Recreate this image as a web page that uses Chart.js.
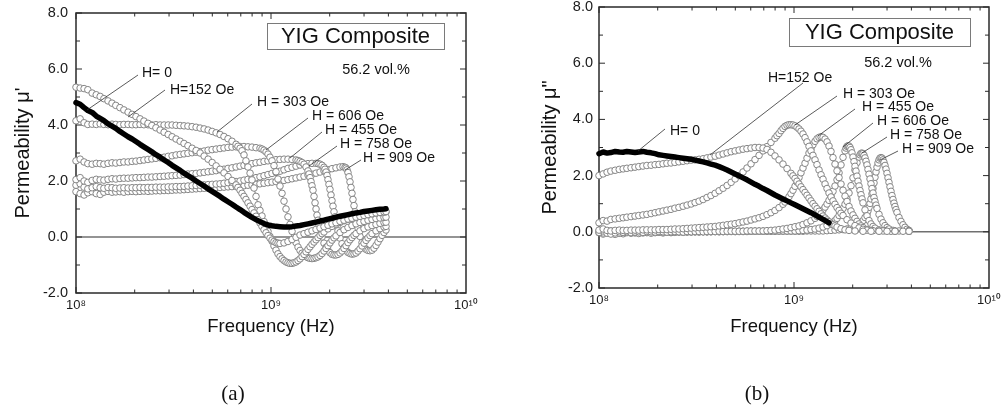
<!DOCTYPE html>
<html><head><meta charset="utf-8">
<script src="https://cdn.jsdelivr.net/npm/chart.js@4.4.1/dist/chart.umd.min.js"></script>
<style>
html,body{margin:0;padding:0;background:#fff;}
#wrap{position:relative;width:1008px;height:415px;overflow:hidden;background:#fff;}
#ca{position:absolute;left:0;top:0;width:500px;height:415px;}
#cb{position:absolute;left:500px;top:0;width:508px;height:415px;}
</style></head><body>
<div id="wrap"><canvas id="ca" width="500" height="415"></canvas><canvas id="cb" width="508" height="415"></canvas></div>
<script>
// ---------- tick labels ----------
const xTickVals = [1e8, 1e9, 1e10];
const xTickText = ['10\u2078', '10\u2079', '10\u00B9\u2070'];
const seriesNames = ['H= 0', 'H=152 Oe', 'H = 303 Oe', 'H = 455 Oe', 'H = 606 Oe', 'H = 758 Oe', 'H = 909 Oe'];

// ---------- panel (a): real permeability mu' ; pairs [frequency MHz, value] ----------
const muA_H0 = [[100,4.80],[105,4.74],[110,4.62],[115,4.52],[121,4.45],[127,4.32],[133,4.24],[139,4.16],[146,4.04],[153,3.96],[160,3.88],[168,3.77],[176,3.68],[185,3.58],[194,3.50],[203,3.41],[213,3.31],[223,3.22],[234,3.13],[245,3.04],[257,2.94],[270,2.85],[283,2.75],[297,2.66],[311,2.56],[326,2.47],[342,2.38],[358,2.28],[375,2.19],[394,2.10],[413,2.00],[433,1.91],[454,1.82],[476,1.72],[499,1.63],[523,1.54],[548,1.45],[574,1.35],[602,1.26],[631,1.17],[662,1.07],[694,0.98],[727,0.88],[762,0.79],[799,0.70],[838,0.62],[878,0.55],[921,0.48],[965,0.43],[1012,0.40],[1061,0.38],[1112,0.37],[1166,0.36],[1222,0.36],[1282,0.37],[1344,0.39],[1409,0.41],[1477,0.44],[1548,0.47],[1623,0.50],[1702,0.53],[1784,0.57],[1870,0.60],[1960,0.64],[2055,0.67],[2154,0.71],[2259,0.74],[2368,0.77],[2482,0.80],[2602,0.83],[2729,0.86],[2860,0.88],[2999,0.91],[3144,0.93],[3296,0.95],[3455,0.97],[3622,0.99],[3797,1.00],[3888,1.01]];
const muA_H152 = [[100,5.35],[105,5.32],[110,5.30],[115,5.26],[121,5.14],[127,5.08],[133,5.02],[139,4.94],[146,4.86],[153,4.78],[160,4.70],[168,4.62],[176,4.54],[185,4.46],[194,4.38],[203,4.30],[213,4.22],[223,4.14],[234,4.06],[245,3.98],[257,3.90],[270,3.82],[283,3.74],[297,3.66],[311,3.58],[326,3.50],[342,3.42],[358,3.34],[375,3.26],[394,3.17],[413,3.09],[433,3.00],[454,2.89],[476,2.78],[499,2.66],[523,2.54],[548,2.42],[574,2.29],[602,2.16],[631,2.02],[662,1.86],[677,1.77],[694,1.67],[710,1.56],[727,1.45],[744,1.34],[762,1.22],[781,1.10],[799,0.98],[818,0.86],[838,0.74],[858,0.62],[878,0.50],[899,0.38],[921,0.26],[943,0.15],[965,0.05],[988,-0.04],[1012,-0.11],[1036,-0.16],[1061,-0.20],[1086,-0.22],[1112,-0.23],[1166,-0.21],[1222,-0.16],[1282,-0.09],[1344,-0.01],[1409,0.07],[1477,0.12],[1548,0.17],[1623,0.22],[1702,0.27],[1784,0.32],[1870,0.37],[1960,0.42],[2055,0.47],[2154,0.51],[2259,0.56],[2368,0.60],[2482,0.64],[2602,0.67],[2729,0.71],[2860,0.74],[2999,0.77],[3144,0.80],[3296,0.83],[3455,0.86],[3622,0.88],[3797,0.90],[3888,0.91]];
const muA_H303 = [[100,4.15],[105,4.22],[110,4.08],[115,4.02],[121,4.03],[127,4.02],[133,4.04],[139,4.02],[146,4.01],[153,4.03],[160,4.02],[168,4.01],[176,4.02],[185,4.02],[194,4.01],[203,4.01],[213,4.02],[223,4.01],[234,4.01],[245,4.00],[257,4.01],[270,4.00],[283,4.00],[297,4.00],[311,4.00],[326,3.99],[342,3.98],[358,3.97],[375,3.96],[394,3.94],[413,3.92],[433,3.89],[454,3.86],[476,3.82],[499,3.77],[523,3.72],[548,3.66],[574,3.59],[602,3.51],[631,3.42],[662,3.31],[677,3.24],[694,3.17],[710,3.08],[727,2.93],[744,2.72],[762,2.50],[781,2.28],[799,2.04],[818,1.75],[838,1.45],[858,1.15],[878,0.95],[899,0.75],[921,0.55],[943,0.38],[965,0.20],[988,0.02],[1012,-0.15],[1036,-0.32],[1061,-0.47],[1086,-0.60],[1112,-0.70],[1139,-0.78],[1166,-0.84],[1194,-0.89],[1222,-0.92],[1251,-0.94],[1282,-0.94],[1312,-0.92],[1344,-0.89],[1376,-0.84],[1409,-0.78],[1443,-0.70],[1477,-0.62],[1512,-0.53],[1548,-0.44],[1585,-0.35],[1623,-0.26],[1662,-0.18],[1702,-0.10],[1742,-0.02],[1784,0.06],[1827,0.12],[1870,0.18],[1960,0.29],[2055,0.38],[2154,0.46],[2259,0.52],[2368,0.58],[2482,0.63],[2602,0.67],[2729,0.71],[2860,0.74],[2999,0.77],[3144,0.80],[3296,0.83],[3455,0.85],[3622,0.87],[3797,0.89],[3888,0.90]];
const muA_H455 = [[100,2.72],[105,2.78],[110,2.68],[115,2.62],[121,2.60],[127,2.63],[133,2.62],[139,2.60],[146,2.63],[153,2.65],[160,2.64],[168,2.66],[176,2.68],[185,2.68],[194,2.70],[203,2.71],[213,2.73],[223,2.75],[234,2.77],[245,2.79],[257,2.81],[270,2.83],[283,2.85],[297,2.88],[311,2.90],[326,2.93],[342,2.95],[358,2.97],[375,2.99],[394,3.01],[413,3.03],[433,3.05],[454,3.07],[476,3.10],[499,3.12],[523,3.14],[548,3.16],[574,3.18],[602,3.20],[631,3.21],[662,3.22],[694,3.23],[727,3.23],[762,3.22],[799,3.21],[838,3.19],[878,3.17],[899,3.14],[921,3.10],[943,3.04],[965,2.96],[988,2.85],[1012,2.72],[1036,2.55],[1061,2.33],[1086,2.07],[1112,1.82],[1139,1.56],[1166,1.28],[1194,1.00],[1222,0.72],[1251,0.45],[1282,0.20],[1312,-0.02],[1344,-0.20],[1376,-0.36],[1409,-0.48],[1443,-0.58],[1477,-0.65],[1512,-0.70],[1548,-0.74],[1585,-0.76],[1623,-0.77],[1662,-0.76],[1702,-0.74],[1742,-0.71],[1784,-0.66],[1827,-0.59],[1870,-0.50],[1915,-0.41],[1960,-0.31],[2007,-0.21],[2055,-0.11],[2104,-0.03],[2154,0.04],[2259,0.16],[2368,0.26],[2482,0.34],[2602,0.41],[2729,0.47],[2860,0.52],[2999,0.56],[3144,0.60],[3296,0.63],[3455,0.66],[3622,0.68],[3797,0.70],[3888,0.71]];
const muA_H606 = [[100,2.05],[105,2.12],[110,2.00],[115,1.95],[121,2.02],[127,2.06],[133,2.04],[139,2.03],[146,2.06],[153,2.08],[160,2.07],[168,2.09],[176,2.10],[185,2.10],[194,2.11],[203,2.12],[213,2.12],[223,2.13],[234,2.14],[245,2.14],[257,2.15],[270,2.16],[283,2.17],[297,2.18],[311,2.19],[326,2.20],[342,2.21],[358,2.23],[375,2.25],[394,2.26],[413,2.27],[433,2.29],[454,2.31],[476,2.33],[499,2.35],[523,2.37],[548,2.40],[574,2.42],[602,2.45],[631,2.47],[662,2.50],[694,2.53],[727,2.56],[762,2.59],[799,2.62],[838,2.65],[878,2.67],[921,2.70],[965,2.72],[1012,2.74],[1061,2.76],[1112,2.77],[1166,2.78],[1222,2.78],[1282,2.77],[1344,2.75],[1376,2.73],[1409,2.70],[1443,2.66],[1477,2.60],[1512,2.50],[1548,2.36],[1566,2.25],[1585,2.12],[1604,1.98],[1623,1.83],[1642,1.67],[1662,1.45],[1682,1.22],[1702,1.00],[1722,0.78],[1742,0.60],[1763,0.42],[1784,0.26],[1827,0.00],[1870,-0.22],[1915,-0.37],[1960,-0.48],[2007,-0.56],[2055,-0.62],[2104,-0.64],[2154,-0.64],[2206,-0.62],[2259,-0.57],[2313,-0.50],[2368,-0.41],[2425,-0.31],[2482,-0.20],[2542,-0.10],[2602,-0.02],[2665,0.06],[2729,0.12],[2860,0.22],[2999,0.30],[3144,0.36],[3296,0.41],[3455,0.45],[3622,0.49],[3797,0.52],[3888,0.53]];
const muA_H758 = [[100,1.85],[105,1.90],[110,1.78],[115,1.72],[121,1.76],[127,1.80],[133,1.76],[139,1.74],[146,1.77],[153,1.76],[160,1.74],[168,1.75],[176,1.76],[185,1.75],[194,1.76],[203,1.76],[213,1.77],[223,1.76],[234,1.77],[245,1.77],[257,1.78],[270,1.78],[283,1.78],[297,1.79],[311,1.79],[326,1.80],[342,1.80],[358,1.81],[375,1.82],[394,1.83],[413,1.84],[433,1.85],[454,1.86],[476,1.87],[499,1.88],[523,1.89],[548,1.90],[574,1.92],[602,1.94],[631,1.96],[662,1.98],[694,2.00],[727,2.03],[762,2.06],[799,2.09],[838,2.12],[878,2.15],[921,2.19],[965,2.23],[1012,2.27],[1061,2.31],[1112,2.35],[1166,2.40],[1222,2.45],[1282,2.49],[1344,2.53],[1409,2.57],[1477,2.60],[1548,2.62],[1623,2.63],[1702,2.63],[1742,2.62],[1784,2.60],[1827,2.56],[1870,2.49],[1892,2.42],[1915,2.32],[1938,2.20],[1960,2.05],[1983,1.88],[2007,1.70],[2031,1.50],[2055,1.30],[2079,1.10],[2104,0.90],[2129,0.72],[2154,0.54],[2180,0.37],[2206,0.22],[2259,-0.04],[2313,-0.24],[2368,-0.38],[2425,-0.48],[2482,-0.55],[2542,-0.59],[2602,-0.61],[2665,-0.60],[2729,-0.57],[2794,-0.50],[2860,-0.42],[2929,-0.32],[2999,-0.22],[3070,-0.12],[3144,-0.03],[3219,0.05],[3296,0.12],[3455,0.22],[3622,0.30],[3797,0.36],[3888,0.38]];
const muA_H909 = [[100,1.62],[105,1.55],[110,1.50],[115,1.58],[121,1.62],[127,1.55],[133,1.52],[139,1.60],[146,1.63],[153,1.60],[160,1.61],[168,1.62],[176,1.60],[185,1.62],[194,1.63],[203,1.62],[213,1.63],[223,1.64],[234,1.63],[245,1.64],[257,1.65],[270,1.65],[283,1.66],[297,1.66],[311,1.67],[326,1.68],[342,1.68],[358,1.69],[375,1.70],[394,1.71],[413,1.72],[433,1.73],[454,1.74],[476,1.74],[499,1.75],[523,1.76],[548,1.77],[574,1.78],[602,1.79],[631,1.80],[662,1.81],[694,1.82],[727,1.83],[762,1.85],[799,1.86],[838,1.88],[878,1.90],[921,1.92],[965,1.94],[1012,1.96],[1061,1.98],[1112,2.00],[1166,2.02],[1222,2.05],[1282,2.08],[1344,2.11],[1409,2.14],[1477,2.17],[1548,2.21],[1623,2.24],[1702,2.28],[1784,2.32],[1870,2.36],[1960,2.40],[2055,2.44],[2154,2.47],[2259,2.50],[2341,2.51],[2396,2.49],[2425,2.46],[2454,2.40],[2482,2.30],[2512,2.15],[2542,1.97],[2572,1.77],[2602,1.56],[2633,1.34],[2665,1.12],[2697,0.90],[2729,0.69],[2761,0.50],[2794,0.32],[2827,0.16],[2860,0.02],[2929,-0.20],[2999,-0.35],[3070,-0.44],[3144,-0.48],[3219,-0.49],[3296,-0.47],[3375,-0.40],[3455,-0.30],[3538,-0.18],[3622,-0.06],[3709,0.06],[3797,0.16],[3888,0.25]];

// ---------- panel (b): imaginary permeability mu'' ; pairs [frequency MHz, value] ----------
const muB_H0 = [[100,2.78],[105,2.84],[110,2.80],[115,2.82],[121,2.86],[127,2.84],[133,2.83],[139,2.86],[146,2.84],[153,2.82],[160,2.84],[168,2.86],[176,2.83],[185,2.81],[194,2.78],[203,2.74],[213,2.72],[223,2.70],[234,2.68],[245,2.66],[257,2.64],[270,2.62],[283,2.60],[297,2.58],[311,2.55],[326,2.52],[342,2.49],[358,2.45],[375,2.41],[394,2.37],[413,2.32],[433,2.26],[454,2.20],[476,2.13],[499,2.06],[523,1.99],[548,1.92],[574,1.85],[602,1.77],[631,1.69],[662,1.62],[694,1.54],[727,1.47],[762,1.39],[799,1.31],[838,1.24],[878,1.17],[921,1.10],[965,1.03],[1012,0.96],[1061,0.89],[1112,0.82],[1166,0.75],[1222,0.68],[1282,0.60],[1344,0.52],[1409,0.44],[1477,0.36],[1512,0.32]];
const muB_H152 = [[100,2.00],[105,2.06],[110,2.12],[115,2.16],[121,2.19],[127,2.22],[133,2.24],[139,2.26],[146,2.28],[153,2.30],[160,2.32],[168,2.34],[176,2.36],[185,2.37],[194,2.39],[203,2.40],[213,2.42],[223,2.44],[234,2.45],[245,2.47],[257,2.49],[270,2.51],[283,2.53],[297,2.55],[311,2.56],[326,2.58],[342,2.60],[358,2.63],[375,2.66],[394,2.69],[413,2.73],[433,2.77],[454,2.81],[476,2.85],[499,2.88],[523,2.91],[548,2.94],[574,2.96],[602,2.98],[631,3.00],[662,3.00],[694,2.98],[727,2.93],[762,2.83],[799,2.70],[838,2.56],[878,2.41],[921,2.25],[965,2.08],[988,1.99],[1012,1.90],[1036,1.80],[1061,1.70],[1086,1.60],[1112,1.50],[1139,1.40],[1166,1.30],[1194,1.20],[1222,1.10],[1251,1.00],[1282,0.91],[1312,0.82],[1344,0.73],[1376,0.64],[1409,0.56],[1443,0.49],[1477,0.42],[1512,0.36],[1548,0.30],[1585,0.25],[1623,0.21],[1662,0.17],[1742,0.11],[1827,0.07],[1915,0.05],[2055,0.03],[2259,0.02],[2482,0.02],[2729,0.02],[2999,0.02],[3296,0.02],[3622,0.02],[3888,0.02]];
const muB_H303 = [[100,0.32],[105,0.40],[110,0.38],[115,0.44],[121,0.46],[127,0.48],[133,0.50],[139,0.52],[146,0.54],[153,0.56],[160,0.58],[168,0.60],[176,0.62],[185,0.65],[194,0.68],[203,0.71],[213,0.74],[223,0.77],[234,0.80],[245,0.84],[257,0.87],[270,0.91],[283,0.95],[297,0.99],[311,1.04],[326,1.09],[342,1.15],[358,1.22],[375,1.29],[394,1.37],[413,1.46],[433,1.55],[454,1.65],[476,1.76],[499,1.88],[523,2.00],[548,2.13],[574,2.27],[602,2.42],[631,2.57],[662,2.72],[694,2.88],[727,3.03],[762,3.18],[799,3.33],[818,3.42],[838,3.50],[858,3.60],[878,3.68],[899,3.75],[921,3.79],[943,3.81],[965,3.81],[988,3.80],[1012,3.77],[1036,3.72],[1061,3.66],[1086,3.58],[1112,3.48],[1139,3.35],[1166,3.20],[1194,3.04],[1222,2.88],[1251,2.72],[1282,2.56],[1312,2.39],[1344,2.20],[1376,2.03],[1409,1.87],[1443,1.70],[1477,1.54],[1512,1.38],[1548,1.24],[1585,1.10],[1623,0.98],[1662,0.86],[1702,0.76],[1742,0.66],[1784,0.58],[1870,0.43],[1960,0.31],[2055,0.22],[2154,0.14],[2259,0.09],[2368,0.06],[2542,0.04],[2860,0.03],[3296,0.02],[3888,0.02]];
const muB_H455 = [[100,0.06],[105,0.10],[110,0.05],[115,0.03],[121,0.05],[127,0.06],[133,0.05],[139,0.05],[146,0.06],[153,0.06],[160,0.06],[168,0.07],[176,0.07],[185,0.07],[194,0.07],[203,0.08],[213,0.08],[223,0.08],[234,0.09],[245,0.10],[257,0.10],[270,0.11],[283,0.12],[297,0.13],[311,0.14],[326,0.15],[342,0.16],[358,0.17],[375,0.18],[394,0.19],[413,0.21],[433,0.23],[454,0.25],[476,0.27],[499,0.29],[523,0.32],[548,0.35],[574,0.38],[602,0.42],[631,0.46],[662,0.50],[694,0.55],[727,0.61],[762,0.68],[799,0.76],[838,0.86],[878,0.98],[899,1.06],[921,1.15],[943,1.25],[965,1.36],[988,1.48],[1012,1.62],[1036,1.77],[1061,1.93],[1086,2.10],[1112,2.27],[1139,2.44],[1166,2.62],[1194,2.80],[1222,2.96],[1251,3.10],[1282,3.22],[1312,3.31],[1344,3.36],[1376,3.38],[1409,3.36],[1443,3.30],[1477,3.20],[1512,3.05],[1548,2.86],[1585,2.64],[1623,2.41],[1662,2.17],[1702,1.93],[1742,1.70],[1784,1.48],[1827,1.27],[1870,1.08],[1915,0.90],[1960,0.74],[2007,0.60],[2055,0.48],[2104,0.37],[2154,0.28],[2206,0.21],[2259,0.15],[2368,0.08],[2482,0.05],[2729,0.03],[3144,0.02],[3888,0.02]];
const muB_H606 = [[100,-0.02],[105,0.03],[110,-0.05],[115,-0.08],[121,-0.04],[127,0.00],[133,-0.02],[139,0.00],[146,-0.03],[153,-0.01],[160,0.00],[168,-0.02],[176,0.01],[185,0.00],[194,-0.01],[203,0.01],[213,0.00],[223,-0.01],[234,0.00],[245,0.01],[257,0.00],[270,-0.01],[283,0.01],[297,0.00],[311,0.01],[326,0.01],[342,0.00],[358,0.01],[375,0.01],[394,0.01],[413,0.02],[433,0.01],[454,0.02],[476,0.02],[499,0.02],[523,0.02],[548,0.02],[574,0.03],[602,0.03],[631,0.03],[662,0.03],[694,0.03],[727,0.04],[762,0.05],[799,0.06],[838,0.08],[878,0.10],[921,0.12],[965,0.15],[1012,0.18],[1061,0.21],[1112,0.26],[1166,0.32],[1222,0.39],[1282,0.48],[1312,0.55],[1344,0.62],[1376,0.70],[1409,0.78],[1443,0.88],[1477,0.99],[1512,1.12],[1548,1.27],[1585,1.44],[1623,1.63],[1662,1.85],[1702,2.10],[1742,2.38],[1784,2.65],[1827,2.88],[1849,2.98],[1870,3.04],[1892,3.06],[1915,3.05],[1938,3.00],[1960,2.92],[1983,2.81],[2007,2.66],[2031,2.50],[2055,2.33],[2079,2.16],[2104,1.98],[2129,1.80],[2154,1.63],[2180,1.47],[2206,1.32],[2232,1.17],[2259,1.03],[2313,0.78],[2368,0.57],[2425,0.40],[2482,0.28],[2542,0.19],[2602,0.13],[2729,0.07],[2929,0.04],[3296,0.03],[3888,0.02]];
const muB_H758 = [[100,0.02],[105,-0.04],[110,0.00],[115,0.03],[121,-0.02],[127,-0.05],[133,-0.01],[139,0.02],[146,0.00],[153,-0.02],[160,0.01],[168,0.00],[176,-0.01],[185,0.01],[194,0.00],[203,-0.01],[213,0.00],[223,0.01],[234,0.00],[245,-0.01],[257,0.00],[270,0.01],[283,0.00],[297,0.01],[311,0.00],[326,0.01],[342,0.01],[358,0.00],[375,0.01],[394,0.01],[413,0.01],[433,0.01],[454,0.01],[476,0.02],[499,0.01],[523,0.02],[548,0.02],[574,0.02],[602,0.02],[631,0.02],[662,0.02],[694,0.02],[727,0.02],[762,0.02],[799,0.02],[838,0.03],[878,0.03],[921,0.03],[965,0.03],[1012,0.03],[1061,0.04],[1112,0.05],[1166,0.06],[1222,0.08],[1282,0.10],[1344,0.13],[1409,0.17],[1477,0.22],[1548,0.29],[1623,0.40],[1662,0.48],[1702,0.58],[1742,0.70],[1784,0.83],[1827,0.98],[1870,1.16],[1915,1.38],[1960,1.64],[2007,1.92],[2055,2.20],[2104,2.46],[2154,2.66],[2180,2.74],[2206,2.79],[2232,2.80],[2259,2.78],[2286,2.72],[2313,2.63],[2341,2.51],[2368,2.38],[2396,2.22],[2425,2.05],[2454,1.88],[2482,1.71],[2512,1.54],[2542,1.38],[2572,1.22],[2602,1.08],[2633,0.95],[2665,0.83],[2729,0.62],[2794,0.45],[2860,0.32],[2929,0.22],[2999,0.15],[3070,0.10],[3219,0.05],[3455,0.03],[3888,0.02]];
const muB_H909 = [[100,-0.03],[105,-0.08],[110,-0.02],[115,-0.06],[121,-0.09],[127,-0.05],[133,-0.07],[139,-0.03],[146,-0.05],[153,-0.04],[160,-0.06],[168,-0.04],[176,-0.03],[185,-0.05],[194,-0.03],[203,-0.02],[213,-0.04],[223,-0.02],[234,-0.03],[245,-0.02],[257,-0.01],[270,-0.02],[283,-0.01],[297,-0.01],[311,0.00],[326,-0.01],[342,0.00],[358,0.00],[375,0.00],[394,0.01],[413,0.00],[433,0.01],[454,0.01],[476,0.01],[499,0.01],[523,0.01],[548,0.01],[574,0.01],[602,0.02],[631,0.02],[662,0.02],[694,0.02],[727,0.02],[762,0.02],[799,0.02],[838,0.02],[878,0.02],[921,0.02],[965,0.02],[1012,0.02],[1061,0.02],[1112,0.02],[1166,0.03],[1222,0.03],[1282,0.03],[1344,0.03],[1409,0.03],[1477,0.04],[1548,0.05],[1623,0.06],[1702,0.07],[1784,0.08],[1870,0.10],[1960,0.13],[2055,0.18],[2154,0.26],[2206,0.32],[2259,0.40],[2313,0.51],[2368,0.65],[2396,0.75],[2425,0.87],[2454,1.01],[2482,1.17],[2512,1.35],[2542,1.54],[2572,1.74],[2602,1.94],[2633,2.13],[2665,2.30],[2697,2.45],[2729,2.56],[2761,2.62],[2794,2.64],[2827,2.62],[2860,2.56],[2894,2.47],[2929,2.36],[2964,2.23],[2999,2.08],[3035,1.92],[3070,1.76],[3107,1.60],[3144,1.44],[3181,1.29],[3219,1.15],[3257,1.02],[3296,0.90],[3335,0.79],[3375,0.69],[3455,0.51],[3538,0.37],[3622,0.25],[3709,0.16],[3797,0.09],[3888,0.05]];

// ---------- annotation texts (canvas pixel placement) ----------
const notesA = {
  labels: [
    ['H= 0',142,73,138,75,87,110],
    ['H=152 Oe',170,90,165,90,128,117],
    ['H = 303 Oe',257,102,252,104,217,132],
    ['H = 606 Oe',312,116,308,118,266,150],
    ['H = 455 Oe',325,130,322,132,290,158],
    ['H = 758 Oe',340,144,337,146,309,166],
    ['H = 909 Oe',363,158,361,160,345,170]
  ],
  box: [267,23,177,26,'YIG Composite'],
  vol: [376,70,'56.2 vol.%'],
  panel: [233,394,'(a)']
};
const notesB = {
  labels: [
    ['H= 0',170,131,165,129,138,151],
    ['H=152 Oe',268,78,303,83,210,155],
    ['H = 303 Oe',343,94,337,96,295,125],
    ['H = 455 Oe',362,107,355,109,318,136],
    ['H = 606 Oe',377,121,373,123,343,147],
    ['H = 758 Oe',390,135,387,137,362,153],
    ['H = 909 Oe',402,149,398,151,380,160]
  ],
  box: [289,18,181,28,'YIG Composite'],
  vol: [398,63,'56.2 vol.%'],
  panel: [257,394,'(b)']
};

Chart.defaults.font.family = "'Liberation Sans', Arial, sans-serif";
Chart.defaults.color = '#1a1a1a';

function toXY(arr){ return arr.map(p => ({x: p[0]*1e6, y: p[1]})); }
function makeDatasets(series){
  return series.map((s,i) => i === 0 ? {
    label: seriesNames[i], data: toXY(s), showLine: true, borderColor: '#000', borderWidth: 5.5,
    pointRadius: 0, clip: false, order: 0, borderJoinStyle: 'round', borderCapStyle: 'round', tension: 0
  } : {
    label: seriesNames[i], data: toXY(s), showLine: true, borderColor: '#3a3a3a', borderWidth: 0.7,
    pointRadius: 3.3, pointBorderWidth: 1, pointBorderColor: '#858585', pointBackgroundColor: '#ffffff',
    pointHoverRadius: 3.3, clip: false, order: i, tension: 0
  });
}

const framePlugin = {
  id: 'frame',
  beforeDatasetsDraw(chart){
    const {ctx, chartArea: a, scales: {x, y}} = chart;
    ctx.save();
    const y0 = y.getPixelForValue(0);
    ctx.strokeStyle = '#707070'; ctx.lineWidth = 1.5;
    ctx.beginPath(); ctx.moveTo(a.left, y0); ctx.lineTo(a.right, y0); ctx.stroke();
    ctx.strokeStyle = '#2a2a2a'; ctx.lineWidth = 1;
    ctx.beginPath();
    [1e8, 1e9].forEach(d => {
      for (let m = 1; m < 10; m++) {
        const px = x.getPixelForValue(m*d);
        const len = m === 1 ? 6 : 3.5;
        ctx.moveTo(px, a.bottom); ctx.lineTo(px, a.bottom - len);
        ctx.moveTo(px, a.top); ctx.lineTo(px, a.top + len);
      }
    });
    for (let v = -2; v <= 8; v++) {
      const py = y.getPixelForValue(v);
      const len = v % 2 === 0 ? 6 : 4;
      ctx.moveTo(a.left, py); ctx.lineTo(a.left + len, py);
      ctx.moveTo(a.right, py); ctx.lineTo(a.right - len, py);
    }
    ctx.stroke();
    ctx.lineWidth = 1.5;
    ctx.strokeRect(a.left, a.top, a.right - a.left, a.bottom - a.top);
    ctx.restore();
  }
};

function makeNotes(cfg){
  return {
    id: 'notes',
    afterDatasetsDraw(chart){
      const ctx = chart.ctx;
      ctx.save();
      ctx.strokeStyle = '#303030'; ctx.lineWidth = 0.8;
      ctx.fillStyle = '#111';
      ctx.font = "14px 'Liberation Sans', Arial, sans-serif";
      ctx.textAlign = 'left'; ctx.textBaseline = 'middle';
      cfg.labels.forEach(l => {
        ctx.beginPath(); ctx.moveTo(l[3], l[4]); ctx.lineTo(l[5], l[6]); ctx.stroke();
        ctx.fillText(l[0], l[1], l[2]);
      });
      const b = cfg.box;
      ctx.fillStyle = '#fff'; ctx.fillRect(b[0], b[1], b[2], b[3]);
      ctx.strokeStyle = '#7a7a7a'; ctx.lineWidth = 1;
      ctx.strokeRect(b[0]+0.5, b[1]+0.5, b[2], b[3]);
      ctx.fillStyle = '#111'; ctx.textAlign = 'center';
      ctx.font = "22px 'Liberation Sans', Arial, sans-serif";
      ctx.fillText(b[4], b[0] + b[2]/2, b[1] + b[3]/2 + 1);
      ctx.font = "14.5px 'Liberation Sans', Arial, sans-serif";
      ctx.fillText(cfg.vol[2], cfg.vol[0], cfg.vol[1]);
      ctx.font = "21px 'Liberation Serif', 'Times New Roman', serif";
      ctx.fillText(cfg.panel[2], cfg.panel[0], cfg.panel[1]);
      ctx.restore();
    }
  };
}

function zeroPad(scale){ scale.paddingTop = 0; scale.paddingBottom = 0; scale.paddingLeft = 0; scale.paddingRight = 0; }

function makeChart(id, series, yTitle, geo, notes){
  return new Chart(document.getElementById(id), {
    type: 'line',
    data: { datasets: makeDatasets(series) },
    plugins: [framePlugin, makeNotes(notes)],
    options: {
      responsive: false, animation: false, devicePixelRatio: 1,
      layout: { padding: { left: 0, top: geo.top, right: geo.right, bottom: geo.bottom } },
      plugins: { legend: { display: false }, tooltip: { enabled: false } },
      events: [],
      scales: {
        x: {
          type: 'logarithmic', position: 'bottom', min: 1e8, max: 1e10,
          grid: { display: false, drawTicks: false }, border: { display: false },
          afterBuildTicks: s => { s.ticks = xTickVals.map(v => ({ value: v, major: true })); },
          afterFit: s => { s.height = 60; zeroPad(s); },
          ticks: {
            autoSkip: false, maxRotation: 0, padding: 5, color: '#1a1a1a',
            font: { size: 13 },
            callback: v => { const i = xTickVals.indexOf(v); return i >= 0 ? xTickText[i] : ''; }
          },
          title: { display: true, text: 'Frequency (Hz)', color: '#111', font: { size: 18.5 }, padding: { top: 0, bottom: geo.xtb } }
        },
        y: {
          type: 'linear', position: 'left', min: -2, max: 8,
          grid: { display: false, drawTicks: false }, border: { display: false },
          afterFit: s => { s.width = geo.yw; zeroPad(s); },
          ticks: { stepSize: 2, padding: geo.ytp, color: '#1a1a1a', font: { size: 14.5 },
                   callback: v => Number(v).toFixed(1) },
          title: { display: true, text: yTitle, color: '#111', font: { size: 20 }, padding: { top: geo.ytt, bottom: 0 } }
        }
      }
    }
  });
}

makeChart('ca', [muA_H0, muA_H152, muA_H303, muA_H455, muA_H606, muA_H758, muA_H909],
  "Permeability \u03BC'", { top: 13, right: 34, bottom: 62, yw: 76, ytp: 8, ytt: 11, xtb: 15 }, notesA);
makeChart('cb', [muB_H0, muB_H152, muB_H303, muB_H455, muB_H606, muB_H758, muB_H909],
  'Permeability \u03BC"', { top: 7, right: 19, bottom: 67, yw: 99, ytp: 6, ytt: 38, xtb: 10 }, notesB);
</script>
</body></html>
